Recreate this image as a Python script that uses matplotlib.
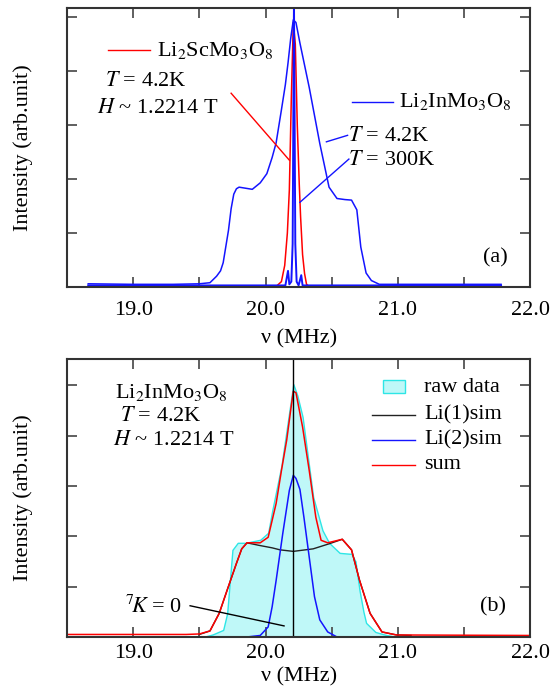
import matplotlib
matplotlib.use('Agg')
import matplotlib.pyplot as plt
from matplotlib.patches import Rectangle

plt.rcParams['font.family'] = ['Liberation Serif', 'DejaVu Serif']
plt.rcParams['mathtext.fontset'] = 'stix'

# (a) 스펙트럼
nu_in_4k = [18.66, 19.0, 19.3, 19.5, 19.58, 19.63, 19.66, 19.68, 19.70, 19.72, 19.74, 19.76, 19.78, 19.8,
            19.85, 19.9, 19.96, 20.01, 20.05, 20.08, 20.12, 20.15, 20.17, 20.19, 20.21, 20.23, 20.26, 20.33,
            20.41, 20.48, 20.54, 20.6, 20.65, 20.69, 20.72, 20.76, 20.8, 20.86, 21.2, 21.5, 21.78]
int_in_4k = [0.06, 0.05, 0.05, 0.06, 0.08, 0.2, 0.3, 0.45, 0.75, 1.05, 1.45, 1.72, 1.82, 1.85,
             1.83, 1.81, 1.93, 2.1, 2.4, 2.67, 3.28, 3.75, 4.15, 4.6, 4.95, 4.9, 4.52, 3.7,
             2.66, 1.85, 1.64, 1.62, 1.61, 1.43, 0.74, 0.26, 0.12, 0.05, 0.05, 0.05, 0.05]

nu_in_300k = [18.66, 20.15, 20.17, 20.18, 20.195, 20.205, 20.215, 20.225, 20.235, 20.25, 20.27, 20.28, 21.78]
int_in_300k = [0.03, 0.03, 0.3, 0.05, 0.1, 0.8, 5.3, 0.8, 0.1, 0.03, 0.22, 0.03, 0.03]

nu_sc = [18.66, 20.08, 20.12, 20.145, 20.165, 20.18, 20.195, 20.21, 20.225, 20.24, 20.255, 20.265,
         20.28, 20.295, 20.31, 20.33, 21.78]
int_sc = [0.0, 0.01, 0.1, 0.4, 1.0, 1.8, 3.5, 4.9, 4.5, 3.0, 1.9, 1.3, 0.6, 0.25, 0.05, 0.01, 0.0]

# (b) 시뮬레이션
nu_raw = [19.53, 19.6, 19.68, 19.71, 19.73, 19.75, 19.79, 19.85, 19.96, 20.02, 20.05, 20.12, 20.17,
          20.21, 20.24, 20.28, 20.36, 20.43, 20.48, 20.56, 20.65, 20.68, 20.71, 20.74, 20.76, 20.83,
          20.91, 21.0]
int_raw = [0.0, 0.05, 0.14, 0.47, 1.1, 1.73, 1.87, 1.87, 1.93, 2.07, 2.5, 3.4, 4.3,
           5.02, 4.8, 4.37, 2.78, 2.12, 1.87, 1.67, 1.65, 1.5, 0.93, 0.5, 0.28, 0.1,
           0.04, 0.0]

nu_li1 = [19.5, 19.58, 19.65, 19.71, 19.78, 19.82, 19.86, 19.95, 20.05, 20.11, 20.21, 20.36, 20.48,
          20.58, 20.65, 20.71, 20.79, 20.88, 20.99, 21.1]
int_li1 = [0.05, 0.12, 0.47, 0.93, 1.46, 1.75, 1.87, 1.82, 1.77, 1.73, 1.7, 1.75, 1.85,
           1.94, 1.73, 1.13, 0.47, 0.1, 0.04, 0.03]

nu_li2 = [19.86, 19.96, 20.02, 20.05, 20.08, 20.13, 20.18, 20.21, 20.23, 20.26, 20.29, 20.33,
          20.37, 20.41, 20.47, 20.54]
int_li2 = [0.0, 0.03, 0.2, 0.6, 1.12, 2.05, 2.91, 3.21, 3.15, 2.93, 2.38, 1.59, 0.8, 0.34, 0.1, 0.0]

nu_sum = [18.5, 19.4, 19.5, 19.58, 19.65, 19.71, 19.78, 19.82, 19.86, 19.96, 20.02, 20.08, 20.12,
          20.16, 20.19, 20.21, 20.23, 20.28, 20.33, 20.38, 20.42, 20.47, 20.58, 20.65, 20.71,
          20.79, 20.88, 20.99, 22.0]
int_sum = [0.05, 0.05, 0.06, 0.12, 0.47, 0.93, 1.46, 1.75, 1.87, 1.87, 1.98, 2.65, 3.3,
           3.91, 4.5, 4.88, 4.85, 4.17, 3.31, 2.38, 1.92, 1.87, 1.94, 1.73, 1.13,
           0.47, 0.1, 0.04, 0.03]

nu_k0 = 20.21

xticks = [19.0, 19.5, 20.0, 20.5, 21.0, 21.5, 22.0]
xticklabels = ['19.0', '', '20.0', '', '21.0', '', '22.0']

fig = plt.figure(figsize=(5.54, 6.96), dpi=100)
ax1 = fig.add_axes([0.121, 0.5876, 0.836, 0.401])
ax2 = fig.add_axes([0.121, 0.0848, 0.836, 0.3994])

ax1.plot(nu_sc, int_sc, color='red', lw=1.1)
ax1.plot(nu_in_4k, int_in_4k, color='#1414ff', lw=1.1)
ax1.plot(nu_in_300k, int_in_300k, color='#1414ff', lw=1.4)
ax1.set_ylim(0, 5.17)
ax1.set_yticks([0, 1, 2, 3, 4, 5])

FS = 16
# 주석 (a)
ax1.plot([18.81, 19.13], [4.39, 4.39], color='red', lw=1)
ax1.text(19.18, 4.39, r'Li$_2$ScMo$_3$O$_8$', fontsize=FS, va='center')
ax1.text(18.79, 3.8, r'$T$ = 4.2K', fontsize=FS, va='center')
ax1.text(18.73, 3.31, r'$H$ ~ 1.2214 T', fontsize=FS, va='center')
ax1.plot([19.74, 20.18], [3.59, 2.35], color='red', lw=1)
ax1.plot([20.65, 20.96], [3.43, 3.43], color='#1414ff', lw=1)
ax1.text(21.01, 3.43, r'Li$_2$InMo$_3$O$_8$', fontsize=FS, va='center')
ax1.text(20.62, 2.78, r'$T$ = 4.2K', fontsize=FS, va='center')
ax1.plot([20.46, 20.62], [2.69, 2.81], color='#1414ff', lw=1)
ax1.text(20.62, 2.35, r'$T$ = 300K', fontsize=FS, va='center')
ax1.plot([20.26, 20.63], [1.57, 2.37], color='#1414ff', lw=1)
ax1.text(21.74, 0.54, '(a)', fontsize=FS, ha='center', va='center')

ax2.fill_between(nu_raw, int_raw, color='#bff8f8', edgecolor='#2ee6e6', lw=1)
ax2.plot(nu_li1, int_li1, color='#222222', lw=1)
ax2.plot(nu_li2, int_li2, color='#1414ff', lw=1.1)
ax2.plot(nu_sum, int_sum, color='red', lw=1.1)
ax2.axvline(nu_k0, color='black', lw=1)
ax2.set_ylim(0, 5.52)
ax2.set_yticks([0, 1, 2, 3, 4, 5])

ax2.text(18.86, 4.86, r'Li$_2$InMo$_3$O$_8$', fontsize=FS, va='center')
ax2.text(18.9, 4.37, r'$T$ = 4.2K', fontsize=FS, va='center')
ax2.text(18.85, 3.91, r'$H$ ~ 1.2214 T', fontsize=FS, va='center')
ax2.text(18.94, 0.6, r'$^7\!K$ = 0', fontsize=FS, va='center')
ax2.plot([19.43, 20.14], [0.62, 0.22], color='black', lw=1)
ax2.text(21.72, 0.6, '(b)', fontsize=FS, ha='center', va='center')

# 범례 (b)
T = ax2.transAxes
ax2.add_patch(Rectangle((0.683, 0.878), 0.047, 0.046, transform=T,
                        facecolor='#bff8f8', edgecolor='#2ee6e6', lw=1))
ax2.text(0.771, 0.896, 'raw data', transform=T, fontsize=FS, va='center')
for yy, col, lab in [(0.799, '#222222', 'Li(1)sim'), (0.709, '#1414ff', 'Li(2)sim'), (0.619, 'red', 'sum')]:
    ax2.plot([0.659, 0.752], [yy, yy], color=col, lw=1, transform=T)
    ax2.text(0.771, yy, lab, transform=T, fontsize=FS, va='center')

for ax, tpad, lpad in ((ax1, 10, 7), (ax2, 5, 3)):
    ax.set_xlim(18.5, 22.0)
    ax.set_xticks(xticks)
    ax.set_xticklabels(xticklabels)
    ax.set_yticklabels([])
    ax.tick_params(direction='in', length=7, width=1.2, color='#444444', top=True, right=True,
                   labelsize=16, pad=tpad)
    for s in ax.spines.values():
        s.set_color('#333333')
        s.set_linewidth(1.5)
    ax.set_xlabel('ν (MHz)', fontsize=16, labelpad=lpad)
    ax.set_ylabel('Intensity (arb.unit)', fontsize=16, va='center')
    ax.yaxis.set_label_coords(-0.095, 0.5)

fig.savefig('out.png', dpi=100)
